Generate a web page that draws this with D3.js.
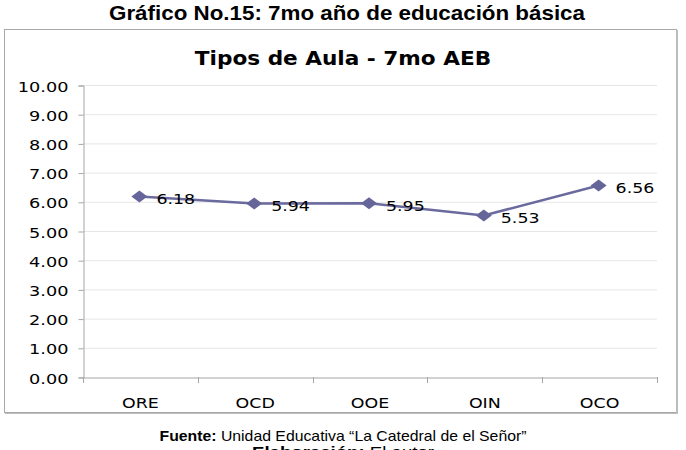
<!DOCTYPE html>
<html><head><meta charset="utf-8">
<script src="https://cdn.jsdelivr.net/npm/d3@7"></script>
<style>
html,body{margin:0;padding:0;background:#fff;}
svg{display:block;}
</style></head>
<body>
<svg id="c" width="686" height="450"></svg>
<script>
const categories = ["ORE","OCD","OOE","OIN","OCO"];
const values = [6.18, 5.94, 5.95, 5.53, 6.56];
const yTicks = [0,1,2,3,4,5,6,7,8,9,10];
const figTitle = "Gráfico No.15:  7mo año de educación básica";
const chartTitle = "Tipos de Aula - 7mo AEB";

const svg = d3.select("#c");
const stretch = (sel, k) => sel.each(function(){
  const L = this.getComputedTextLength();
  d3.select(this).attr("textLength", L*k).attr("lengthAdjust","spacingAndGlyphs");
});

// Figure title
svg.append("text").attr("x",347).attr("y",20).attr("text-anchor","middle")
  .style("font-family","'Liberation Sans Narrow','Liberation Sans',Arial,sans-serif")
  .style("font-weight","bold").style("font-size","21px").attr("fill","#000")
  .text(figTitle).attr("textLength",476).attr("lengthAdjust","spacingAndGlyphs");

// Chart box
svg.append("rect").attr("x",4.5).attr("y",29.5).attr("width",672).attr("height",383)
  .attr("fill","#fff").attr("stroke","#a8a8a8").attr("stroke-width",1);
svg.append("line").attr("x1",677).attr("x2",677).attr("y1",30).attr("y2",414).attr("stroke","#bdbdbd").attr("stroke-width",2);
svg.append("line").attr("x1",5).attr("x2",678).attr("y1",413.5).attr("y2",413.5).attr("stroke","#bdbdbd").attr("stroke-width",1);

// Chart title
svg.append("text").attr("x",343).attr("y",65).attr("text-anchor","middle")
  .style("font-family","'DejaVu Sans',Verdana,sans-serif")
  .style("font-weight","bold").style("font-size","20px").attr("fill","#000")
  .text(chartTitle).call(stretch, 1.08);

const x = d3.scaleBand().domain(categories).range([83,657]);
const y = d3.scaleLinear().domain([0,10]).range([377,85]);

// gridlines
svg.append("g").selectAll("line").data(yTicks.filter(d=>d>0)).join("line")
  .attr("x1",83).attr("x2",657).attr("y1",d=>y(d)+0.5).attr("y2",d=>y(d)+0.5)
  .attr("stroke","#e6e6e6").attr("stroke-width",1);

// y axis
const yAxis = svg.append("g").attr("transform","translate(83.5,0.5)")
  .call(d3.axisLeft(y).tickValues(yTicks).tickFormat(d3.format(".2f")).tickSize(5).tickPadding(10));
yAxis.select(".domain").attr("stroke","#a6a6a6");
yAxis.selectAll(".tick line").attr("stroke","#a6a6a6");
yAxis.selectAll("text").style("font-family","'DejaVu Sans',Verdana,sans-serif")
  .style("font-size","14.5px").attr("fill","#000").attr("dy","0.38em").call(stretch,1.22);

// x axis
const xAxis = svg.append("g").attr("transform","translate(0,377.5)")
  .call(d3.axisBottom(x).tickSize(0).tickPadding(20));
xAxis.select(".domain").attr("stroke","#a6a6a6");
xAxis.selectAll("text").style("font-family","'DejaVu Sans',Verdana,sans-serif")
  .style("font-size","14.5px").attr("fill","#000").call(stretch,1.2);
// boundary ticks
const bounds = categories.map(c=>x(c)).concat([x.range()[1]]);
svg.append("g").selectAll("line").data(bounds).join("line")
  .attr("x1",d=>Math.round(d)+0.5).attr("x2",d=>Math.round(d)+0.5)
  .attr("y1",377).attr("y2",383).attr("stroke","#a6a6a6");

const cx = d => x(d) + x.bandwidth()/2 - 1;
// line
svg.append("path").datum(values)
  .attr("d", d3.line().x((d,i)=>cx(categories[i])).y(d=>y(d)))
  .attr("fill","none").attr("stroke","#6a6a9e").attr("stroke-width",2.5);

// markers
svg.append("g").selectAll("path").data(values).join("path")
  .attr("transform",(d,i)=>`translate(${cx(categories[i])},${y(d)})`)
  .attr("d","M-8,0L0,-6L8,0L0,6Z").attr("fill","#65659a");

// data labels
svg.append("g").selectAll("text").data(values).join("text")
  .attr("x",(d,i)=>cx(categories[i])+17).attr("y",d=>y(d)+2)
  .attr("dy","0.38em")
  .style("font-family","'DejaVu Sans',Verdana,sans-serif")
  .style("font-size","14.5px").attr("fill","#000")
  .text(d=>d3.format(".2f")(d)).call(stretch,1.2);

// footer
const foot = svg.append("text").attr("x",343).attr("y",441).attr("text-anchor","middle")
  .style("font-family","'Liberation Sans Narrow','Liberation Sans',Arial,sans-serif")
  .style("font-size","15px").attr("fill","#000");
foot.append("tspan").style("font-weight","bold").text("Fuente:");
foot.append("tspan").text(" Unidad Educativa “La Catedral de el Señor”");
foot.attr("textLength",367).attr("lengthAdjust","spacingAndGlyphs");

const foot2 = svg.append("text").attr("x",343).attr("y",457).attr("text-anchor","middle")
  .style("font-family","'Liberation Sans Narrow','Liberation Sans',Arial,sans-serif")
  .style("font-size","15px").attr("fill","#000");
foot2.append("tspan").style("font-weight","bold").text("Elaboración:");
foot2.append("tspan").text(" El autor");
foot2.attr("textLength",182).attr("lengthAdjust","spacingAndGlyphs");
</script>
</body></html>
